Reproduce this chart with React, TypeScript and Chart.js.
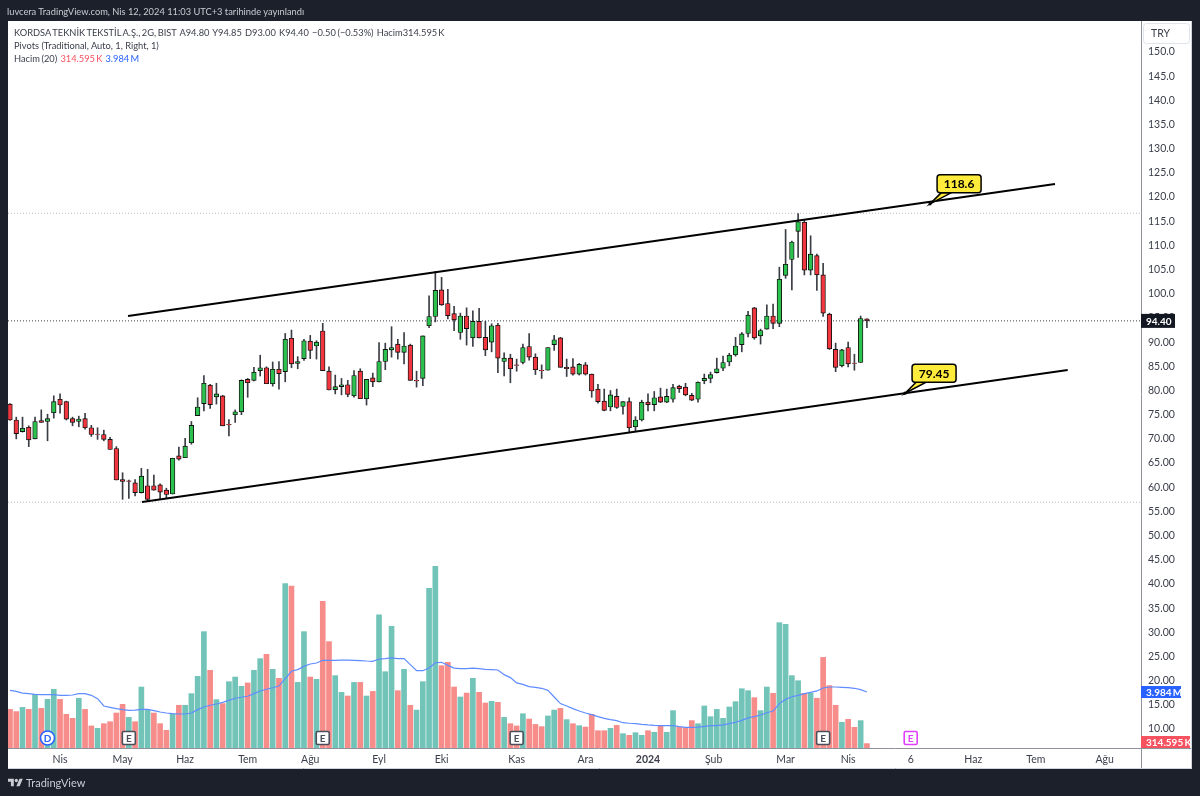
import React, { useEffect, useRef } from "react";
import { Chart, registerables } from "chart.js";

Chart.register(...registerables);

const opens = [77.2,73.9,71.5,72.4,70.0,73.8,73.6,75.4,78.2,77.7,74.2,73.6,74.2,72.3,71.0,70.9,69.9,68.0,61.6,61.3,60.9,58.9,60.3,60.3,60.5,59.4,58.6,66.5,66.1,69.2,74.8,77.3,81.1,78.7,78.9,73.0,75.0,75.6,82.3,82.1,84.1,84.7,81.4,84.4,83.9,90.8,85.6,86.6,90.2,89.2,92.3,84.0,80.2,80.8,81.2,78.9,84.0,78.3,82.6,81.8,86.0,88.4,89.6,87.9,89.4,82.1,82.5,93.4,95.3,100.8,98.0,95.9,92.0,95.4,90.9,94.3,91.0,90.0,93.5,86.0,86.7,85.3,85.8,89.1,86.9,84.2,84.2,89.5,90.9,84.8,84.9,83.4,85.3,83.4,80.3,77.8,76.6,78.8,76.7,77.7,72.5,73.9,77.6,77.1,78.7,77.6,78.2,80.9,80.7,79.0,78.2,82.0,82.5,83.7,84.6,85.9,87.4,89.5,91.8,97.1,91.3,92.7,95.4,93.9,103.8,107.1,112.9,114.8,104.9,107.9,103.9,95.8,88.5,85.1,88.9,85.7,85.8,94.8];
const closes = [73.9,71.1,72.2,69.8,73.6,73.4,74.2,77.7,77.0,74.1,73.4,74.1,72.3,70.9,70.9,69.9,67.8,61.5,61.2,61.2,58.9,62.3,57.5,59.4,59.0,58.5,66.0,65.8,68.5,72.8,76.6,81.5,77.1,79.3,72.7,72.9,75.6,82.1,81.6,83.8,84.7,81.4,84.4,83.5,90.6,85.5,86.0,90.3,88.3,90.0,84.1,80.1,80.8,81.2,79.2,83.1,78.3,82.3,81.8,86.0,88.5,88.9,87.9,89.2,82.1,82.0,91.3,95.3,100.7,97.7,95.5,94.6,95.4,92.8,94.3,90.9,88.4,93.4,86.7,86.7,84.5,85.2,88.9,86.9,84.3,84.1,88.9,90.5,84.8,84.5,83.4,85.4,83.4,79.9,77.7,75.9,79.1,76.5,77.7,72.3,73.9,77.6,77.1,78.5,77.6,78.8,80.6,80.4,79.1,78.0,81.7,82.5,83.3,84.5,85.8,87.3,89.2,91.7,95.6,90.9,92.4,95.4,93.9,103.0,106.1,110.7,114.9,104.9,108.2,103.9,96.0,88.6,84.8,88.4,85.5,85.6,94.9,94.4];
const highs = [77.3,74.5,74.5,72.7,74.5,76.0,75.1,78.9,79.3,77.8,74.5,74.7,75.3,72.8,72.3,71.8,70.3,68.4,63.0,61.5,61.6,63.9,63.7,62.5,60.7,59.8,66.0,68.3,70.1,73.6,78.5,83.1,81.3,81.5,79.0,74.0,76.0,82.2,82.5,84.8,87.3,84.9,85.9,86.0,91.8,92.5,87.0,90.6,91.4,90.3,93.9,84.9,83.2,82.5,82.1,84.1,84.5,82.3,83.6,89.9,89.8,93.2,90.6,92.0,89.6,84.0,91.3,99.6,104.6,103.4,100.9,97.4,96.0,97.1,96.5,97.0,94.3,93.8,93.9,87.8,87.5,86.5,89.6,91.8,87.6,85.3,88.9,91.4,91.0,86.5,86.6,85.6,85.8,83.4,81.3,80.3,80.0,80.3,77.7,78.5,74.6,78.0,79.3,79.8,80.5,80.3,81.3,81.1,81.5,79.4,81.8,83.4,83.8,86.7,87.1,87.7,91.0,92.0,96.4,97.2,92.7,97.7,97.9,105.5,113.3,110.9,116.6,115.3,112.0,108.2,106.3,96.0,89.8,88.5,90.0,87.5,95.4,94.85];
const lows = [73.8,70.0,71.4,68.4,70.0,73.4,69.6,74.3,75.3,73.9,72.7,72.5,72.0,70.5,69.9,69.6,67.8,61.5,57.5,57.7,58.2,58.8,57.0,59.4,57.5,57.7,58.6,65.6,66.1,68.9,74.8,75.8,76.3,77.2,72.7,70.6,73.4,75.0,78.6,82.0,83.0,81.4,80.9,80.3,81.8,84.7,84.5,86.2,86.6,86.5,84.1,80.1,79.3,79.1,78.7,78.6,78.3,77.0,80.8,81.8,84.3,86.9,86.5,85.5,82.1,80.7,81.0,93.0,94.2,97.6,94.8,92.4,90.6,89.4,89.1,90.9,87.2,88.0,83.7,83.0,81.6,84.0,85.5,86.3,83.3,82.5,84.2,88.3,84.8,82.9,83.2,83.2,83.2,78.6,77.4,75.8,75.8,76.3,75.1,71.3,71.5,73.7,75.8,75.8,77.5,77.5,77.6,79.6,78.9,77.9,77.6,81.4,81.6,83.6,84.1,85.1,87.1,88.0,91.1,90.6,89.6,92.7,92.8,93.2,103.2,100.8,107.5,103.9,103.9,100.7,95.3,88.5,83.9,84.9,84.9,84.2,85.8,93.0];

const volumes = [2.75,2.59,2.89,2.75,3.82,2.82,3.46,4.18,3.46,2.40,2.11,3.54,2.75,1.57,1.40,1.73,1.87,2.49,3.11,2.18,1.87,4.34,2.68,2.49,1.73,1.26,2.40,3.04,3.04,3.87,5.10,8.28,5.53,3.44,3.16,4.72,5.05,4.39,4.63,5.53,6.36,6.67,5.60,4.96,11.70,11.53,4.67,8.28,5.05,4.89,10.44,7.57,5.15,3.96,3.70,4.67,4.67,3.70,4.03,9.47,5.43,8.66,4.08,5.60,3.04,2.70,4.72,11.36,12.93,5.86,6.10,4.34,3.63,3.91,4.96,3.96,3.20,3.32,3.25,2.18,1.73,1.57,2.44,2.06,1.68,1.52,2.28,2.70,2.82,2.02,1.73,1.59,1.49,2.40,1.23,1.23,1.40,1.61,1.02,0.90,1.09,0.90,1.23,1.12,1.59,1.12,2.66,1.49,1.45,1.95,1.73,2.99,2.23,2.75,2.11,2.92,3.30,4.22,4.08,3.58,2.66,4.34,3.89,8.92,8.80,5.15,4.79,3.89,3.89,3.54,6.45,4.44,3.04,1.83,2.04,1.47,1.95,0.3146];
const volumeSides = "RRGRGRGGRRRGRRGRRRRGRGGRRRGRGGGGRGRGGGRGGRGRGRGGRGRRGGRGRGRGGGRGRGGGGRRRGRGRRGRGRRGRRRGGRGRGRRRRGRGRGGRGRGGRRRGGGGGGGGGRGGRGGGGRGRRRRGRRGR";
const volumeMa = [4.10,4.03,3.91,3.87,3.82,3.80,3.80,3.80,3.75,3.75,3.77,3.87,3.87,3.75,3.51,2.99,2.89,2.80,2.73,2.68,2.70,2.75,2.75,2.66,2.56,2.49,2.44,2.42,2.42,2.49,2.73,2.92,3.04,3.13,3.25,3.39,3.54,3.61,3.68,3.87,4.06,4.18,4.29,4.41,4.93,5.46,5.58,5.81,5.98,6.05,6.24,6.24,6.24,6.26,6.26,6.24,6.22,6.19,6.17,6.33,6.36,6.41,6.36,6.36,5.93,5.50,5.50,5.69,6.07,6.10,5.88,5.69,5.65,5.65,5.69,5.65,5.60,5.58,5.55,5.22,5.01,4.63,4.53,4.37,4.32,4.25,4.10,3.63,3.16,2.99,2.80,2.63,2.49,2.37,2.23,2.11,2.02,1.95,1.80,1.76,1.73,1.68,1.64,1.61,1.59,1.59,1.59,1.52,1.47,1.47,1.49,1.54,1.59,1.59,1.64,1.73,1.83,1.97,2.14,2.23,2.35,2.51,2.63,3.16,3.46,3.65,3.75,3.87,3.96,4.06,4.27,4.34,4.34,4.32,4.29,4.25,4.15,3.984];

const priceTicks = [10,15,20,25,30,35,40,45,50,55,60,65,70,75,80,85,90,95,100,105,110,115,120,125,130,135,140,145,150];
const timeTickIndex = [8,18,28,38,48,59,69,81,92,102,112.5,124,134,144,154,164,175];
const timeTickLabels = ["Nis","May","Haz","Tem","Ağu","Eyl","Eki","Kas","Ara","2024","Şub","Mar","Nis","6","Haz","Tem","Ağu"];

const upperChannel = [{ x: 18.87, y: 95.4 }, { x: 167.07, y: 122.7 }];
const lowerChannel = [{ x: 21.1, y: 56.95 }, { x: 169.1, y: 84.24 }];
const lastPrice = 94.4;
const pivotHigh = 116.65;
const pivotLow = 56.9;
const callouts = [
  { x: 147.1, y: 118.6, text: "118.6" },
  { x: 143.1, y: 79.45, text: "79.45" },
];
const dividendBars = [6];
const earningsBars = [19, 50, 81, 130];
const futureEarningsBars = [144];

const FONT = 'Lato, "Noto Sans", sans-serif';
const DARK = "#1c202b";
const TEAL = "#72c4b8";
const SALMON = "#f68d8a";
const UP = "#2cc04e";
const DOWN = "#f2363f";
const TEXT = "#3a3e4a";

const roundRect = (ctx: any, x: number, y: number, w: number, h: number, r: number) => {
  ctx.beginPath();
  ctx.roundRect(x, y, w, h, r);
};

const framePlugin = {
  id: "frame",
  beforeDraw(chart: any) {
    const { ctx } = chart;
    ctx.save();
    ctx.fillStyle = DARK;
    ctx.fillRect(0, 0, 1200, 796);
    ctx.fillStyle = "#ffffff";
    ctx.fillRect(8, 21, 1183, 747);
    ctx.strokeStyle = "#8f929b";
    ctx.lineWidth = 1;
    ctx.beginPath();
    ctx.moveTo(1141.5, 21);
    ctx.lineTo(1141.5, 768);
    ctx.moveTo(8, 748.5);
    ctx.lineTo(1191, 748.5);
    ctx.stroke();
    ctx.strokeStyle = "#d1d4dc";
    ctx.beginPath();
    ctx.moveTo(8, 768.5);
    ctx.lineTo(1191, 768.5);
    ctx.moveTo(1191.5, 21);
    ctx.lineTo(1191.5, 769);
    ctx.stroke();
    ctx.restore();
  },
  afterDraw(chart: any) {
    const { ctx, scales } = chart;
    const px = (i: number) => scales.x.getPixelForValue(i);
    const py = (v: number) => scales.y.getPixelForValue(v);
    ctx.save();

    // Drawn callouts on the channel lines
    callouts.forEach((c) => {
      const ax = px(c.x);
      const ay = py(c.y);
      const bw = 44;
      const bh = 18;
      const bx = ax + 7;
      const by = ay - 29;
      ctx.fillStyle = "#ffeb3b";
      ctx.strokeStyle = "#000000";
      ctx.lineWidth = 1.5;
      ctx.beginPath();
      ctx.moveTo(ax, ay);
      ctx.lineTo(bx + 4, by + bh);
      ctx.lineTo(bx + 14, by + bh);
      ctx.closePath();
      ctx.fill();
      ctx.stroke();
      roundRect(ctx, bx, by, bw, bh, 3);
      ctx.fill();
      ctx.stroke();
      ctx.fillStyle = "#000000";
      ctx.font = `700 12px ${FONT}`;
      ctx.textAlign = "center";
      ctx.textBaseline = "middle";
      ctx.fillText(c.text, bx + bw / 2, by + bh / 2 + 0.5);
      ctx.beginPath();
      ctx.arc(ax, ay, 1.6, 0, Math.PI * 2);
      ctx.fill();
    });

    // Events row
    const ey = 738;
    ctx.textAlign = "center";
    ctx.textBaseline = "middle";
    dividendBars.forEach((i) => {
      ctx.fillStyle = "#ffffff";
      ctx.strokeStyle = "#2962ff";
      ctx.lineWidth = 1.6;
      ctx.beginPath();
      ctx.arc(px(i), ey, 7, 0, Math.PI * 2);
      ctx.fill();
      ctx.stroke();
      ctx.fillStyle = "#2962ff";
      ctx.font = `700 10px ${FONT}`;
      ctx.fillText("D", px(i), ey + 0.5);
    });
    const earning = (i: number, color: string) => {
      ctx.fillStyle = "#ffffff";
      ctx.strokeStyle = color;
      ctx.lineWidth = 1.6;
      roundRect(ctx, px(i) - 6.5, ey - 6.5, 13, 13, 1.5);
      ctx.fill();
      ctx.stroke();
      ctx.fillStyle = color;
      ctx.font = `700 10px ${FONT}`;
      ctx.fillText("E", px(i), ey + 0.5);
    };
    earningsBars.forEach((i) => earning(i, "#4a4e5a"));
    futureEarningsBars.forEach((i) => earning(i, "#e040fb"));

    // Axis header and value tags
    ctx.strokeStyle = "#e0e3eb";
    ctx.lineWidth = 1;
    roundRect(ctx, 1143.5, 23.5, 46, 20, 3);
    ctx.stroke();
    ctx.fillStyle = TEXT;
    ctx.textAlign = "left";
    ctx.font = `10.5px ${FONT}`;
    ctx.fillText("TRY", 1151, 34);

    const tag = (text: string, y: number, w: number, h: number, color: string) => {
      ctx.fillStyle = color;
      ctx.fillRect(1141, y - h / 2, w, h);
      ctx.fillStyle = "#ffffff";
      ctx.font = `700 10px ${FONT}`;
      ctx.fillText(text, 1146, y + 0.5);
    };
    tag("94.40", py(lastPrice), 34, 14, "#131722");
    tag("3.984\u2009M", scales.vol.getPixelForValue(volumeMa[volumeMa.length - 1]), 40, 12, "#2962ff");
    tag("314.595\u2009K", 742, 49, 12, "#f7525f");
    ctx.restore();
  },
};

const xs = opens.map((_, i) => i);
const isUp = (i: number) => closes[i] >= opens[i];

export default function App() {
  const ref = useRef<HTMLCanvasElement | null>(null);

  useEffect(() => {
    if (!ref.current) return;
    const hline = (y: number) => [{ x: -0.32, y }, { x: 180.82, y }];
    const chart = new Chart(ref.current, {
      type: "bar",
      plugins: [framePlugin],
      data: {
        datasets: [
          {
            type: "bar",
            yAxisID: "vol",
            data: xs.map((i) => ({ x: i, y: volumes[i] })),
            backgroundColor: xs.map((i) => (volumeSides[i] === "G" ? TEAL : SALMON)),
            barThickness: 5,
            grouped: false,
            order: 50,
          },
          {
            type: "line",
            yAxisID: "vol",
            data: xs.map((i) => ({ x: i, y: volumeMa[i] })),
            borderColor: "#5f8cff",
            borderWidth: 1.2,
            pointRadius: 0,
            tension: 0,
            order: 40,
          },
          {
            type: "line",
            yAxisID: "y",
            data: hline(lastPrice),
            borderColor: "#3a3e4a",
            borderWidth: 1,
            borderDash: [1, 2],
            pointRadius: 0,
            order: 35,
          },
          {
            type: "line",
            yAxisID: "y",
            data: hline(pivotHigh),
            borderColor: "#b8bac0",
            borderWidth: 1,
            borderDash: [1, 2],
            pointRadius: 0,
            order: 36,
          },
          {
            type: "line",
            yAxisID: "y",
            data: hline(pivotLow),
            borderColor: "#b8bac0",
            borderWidth: 1,
            borderDash: [1, 2],
            pointRadius: 0,
            order: 37,
          },
          {
            type: "bar",
            yAxisID: "y",
            data: xs.map((i) => ({ x: i, y: [lows[i], highs[i]] })),
            backgroundColor: "#3a3d45",
            barThickness: 1,
            borderWidth: 0,
            grouped: false,
            order: 30,
          },
          {
            type: "bar",
            yAxisID: "y",
            data: xs.map((i) => ({ x: i, y: [opens[i], closes[i]] })),
            backgroundColor: xs.map((i) => (isUp(i) ? UP : DOWN)),
            borderColor: "#111111",
            borderWidth: 0.9,
            borderSkipped: false,
            barThickness: 4.6,
            grouped: false,
            order: 20,
          },
          {
            type: "line",
            yAxisID: "y",
            data: upperChannel,
            borderColor: "#000000",
            borderWidth: 2,
            pointRadius: 0,
            order: 10,
          },
          {
            type: "line",
            yAxisID: "y",
            data: lowerChannel,
            borderColor: "#000000",
            borderWidth: 2,
            pointRadius: 0,
            order: 11,
          },
        ] as any,
      },
      options: {
        responsive: false,
        animation: false,
        events: [],
        layout: { padding: { left: 8, top: 21, right: 9, bottom: 28 } },
        plugins: { legend: { display: false }, tooltip: { enabled: false } },
        scales: {
          x: {
            type: "linear",
            offset: false,
            min: -0.32,
            max: 180.82,
            grid: { display: false, drawTicks: false, offset: false },
            border: { display: false },
            afterFit: (s: any) => { s.height = 20; },
            afterBuildTicks: (s: any) => { s.ticks = timeTickIndex.map((value) => ({ value })); },
            ticks: {
              autoSkip: false,
              maxRotation: 0,
              padding: 5,
              color: TEXT,
              font: (c: any) => ({ family: FONT, size: 10.5, weight: c.tick && c.tick.value === 102 ? "700" : "400" }),
              callback: (v: any) => timeTickLabels[timeTickIndex.indexOf(Number(v))],
            },
          },
          y: {
            type: "linear",
            position: "right",
            min: 6.08,
            max: 156.41,
            grid: { display: false, drawTicks: false },
            border: { display: false },
            afterFit: (s: any) => { s.width = 50; },
            afterBuildTicks: (s: any) => { s.ticks = priceTicks.map((value) => ({ value })); },
            ticks: {
              autoSkip: false,
              padding: 7,
              color: TEXT,
              font: { family: FONT, size: 10.5 },
              callback: (v: any) => (Number(v) >= 100 ? Number(v).toFixed(1) : Number(v).toFixed(2)),
            },
          },
          vol: {
            type: "linear",
            display: false,
            min: 0,
            max: 51.74,
          },
        },
      } as any,
    });
    return () => chart.destroy();
  }, []);

  const line: React.CSSProperties = { position: "absolute", whiteSpace: "pre", fontFamily: FONT, fontSize: 9.3, lineHeight: "13px", color: TEXT, wordSpacing: -0.8 };

  return (
    <div style={{ position: "fixed", left: 0, top: 0, width: 1200, height: 796, overflow: "hidden", background: DARK }}>
      <canvas ref={ref} width={1200} height={796} style={{ display: "block", width: 1200, height: 796 }} />
      <div style={{ ...line, left: 7, top: 5, color: "#c9ccd3", wordSpacing: 0 }}>luvcera TradingView.com, Nis 12, 2024 11:03 UTC+3 tarihinde yayınlandı</div>
      <div style={{ ...line, left: 14, top: 26 }}>KORDSA TEKNİK TEKSTİL A.Ş., 2G, BIST  A94.80  Y94.85  D93.00  K94.40  −0.50 (−0.53%)  Hacim314.595{"\u2009"}K</div>
      <div style={{ ...line, left: 14, top: 39, wordSpacing: 0 }}>Pivots (Traditional, Auto, 1, Right, 1)</div>
      <div style={{ ...line, left: 14, top: 52 }}>
        Hacim (20)  <span style={{ color: "#f7525f" }}>314.595{"\u2009"}K</span>  <span style={{ color: "#2962ff" }}>3.984{"\u2009"}M</span>
      </div>
      <div style={{ position: "absolute", left: 8, top: 776, display: "flex", alignItems: "center", gap: 3, color: "#c9ccd3", fontFamily: FONT, fontSize: 11 }}>
        <svg width="15" height="12" viewBox="0 0 36 28" fill="#c9ccd3">
          <path d="M14 22H7V11H0V4h14v18zM28 22h-8l7.5-18h8L28 22z" />
          <circle cx="20" cy="8" r="4" />
        </svg>
        <span>TradingView</span>
      </div>
    </div>
  );
}
